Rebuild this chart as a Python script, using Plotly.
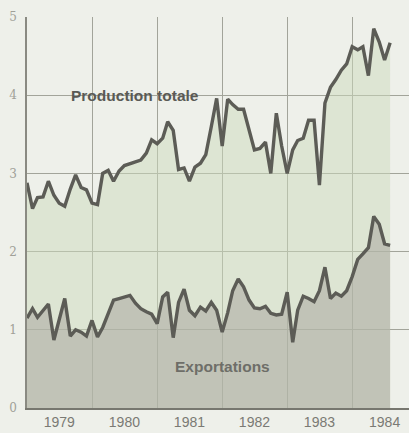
import pandas as pd
import plotly.graph_objects as go

months = pd.date_range("1979-01-01", periods=68, freq="MS")

production = [
    2.88, 2.55, 2.69, 2.70, 2.90, 2.72, 2.62, 2.58, 2.80, 2.98, 2.82, 2.79,
    2.62, 2.60, 3.00, 3.04, 2.90, 3.03, 3.10, 3.12, 3.14, 3.17, 3.26, 3.43,
    3.38, 3.45, 3.66, 3.55, 3.05, 3.07, 2.90, 3.08, 3.13, 3.24, 3.60, 3.96,
    3.35, 3.95, 3.88, 3.82, 3.82, 3.55, 3.30, 3.32, 3.40, 3.00, 3.77, 3.35,
    3.00, 3.30, 3.42, 3.45, 3.68, 3.68, 2.85, 3.90, 4.10, 4.20, 4.32, 4.40,
    4.62, 4.58, 4.62, 4.25, 4.85, 4.68, 4.45, 4.67,
]

exportations = [
    1.15, 1.27, 1.16, 1.25, 1.33, 0.87, 1.15, 1.40, 0.92, 1.00, 0.97, 0.92,
    1.12, 0.91, 1.03, 1.22, 1.38, 1.40, 1.42, 1.44, 1.34, 1.27, 1.23, 1.20,
    1.08, 1.42, 1.48, 0.90, 1.35, 1.52, 1.25, 1.18, 1.29, 1.24, 1.35, 1.25,
    0.97, 1.22, 1.50, 1.65, 1.55, 1.38, 1.28, 1.27, 1.30, 1.21, 1.19, 1.20,
    1.48, 0.84, 1.25, 1.43, 1.40, 1.36, 1.50, 1.80, 1.40, 1.47, 1.43, 1.50,
    1.68, 1.90, 1.97, 2.05, 2.45, 2.35, 2.10, 2.08,
]

years = ["1979", "1980", "1981", "1982", "1983", "1984"]
year_mid = [f"{y}-07-01" for y in years]

line_col = "#5c5c56"
bg = "#eef0ea"

fig = go.Figure()
fig.add_trace(go.Scatter(
    x=months, y=production, mode="lines", fill="tozeroy",
    fillcolor="rgba(204,218,188,0.5)",
    line=dict(color=line_col, width=3.4), hoverinfo="skip", showlegend=False,
))
fig.add_trace(go.Scatter(
    x=months, y=exportations, mode="lines", fill="tozeroy",
    fillcolor="rgba(169,167,161,0.55)",
    line=dict(color=line_col, width=3.4), hoverinfo="skip", showlegend=False,
))

fig.add_annotation(x="1980-09-01", y=4.0, text="<b>Production totale</b>",
                   showarrow=False, xanchor="center", yanchor="middle",
                   font=dict(family="Liberation Sans, Arial", size=15.5, color="#5a5a55"))
fig.add_annotation(x="1982-01-01", y=0.53, text="<b>Exportations</b>",
                   showarrow=False, xanchor="center", yanchor="middle",
                   font=dict(family="Liberation Sans, Arial", size=15.5, color="#6e6e68"))

fig.update_layout(
    width=409, height=433,
    margin=dict(l=27, r=0, t=17, b=25, autoexpand=False),
    paper_bgcolor=bg, plot_bgcolor=bg,
    font=dict(family="Liberation Sans, Arial", color="#808078"),
)
fig.update_xaxes(
    type="date", range=["1979-01-01", "1984-11-15"], automargin=False,
    tickvals=year_mid, ticktext=years, ticks="", showgrid=False,
    tickfont=dict(size=14, color="#7a7a74"), ticklabelstandoff=0,
    minor=dict(dtick="M12", tick0="1979-01-01", showgrid=True,
               gridcolor="#a2a49a", gridwidth=1, ticks=""),
    showline=True, linecolor="#77776f", linewidth=1.5,
    zeroline=False,
)
fig.update_yaxes(
    range=[0, 5], tickvals=[0, 1, 2, 3, 4, 5], showgrid=True, automargin=False,
    gridcolor="#a2a49a", gridwidth=1, ticks="", ticklabelstandoff=6,
    tickfont=dict(size=12, color="#a0a098", family="DejaVu Serif, serif"),
    showline=True, linecolor="#8a8a82", linewidth=1.5, zeroline=False,
)

fig.write_html(
    "out.html",
    config={"displayModeBar": False},
    post_script="document.body.style.margin='0';document.body.style.overflow='hidden';",
)
